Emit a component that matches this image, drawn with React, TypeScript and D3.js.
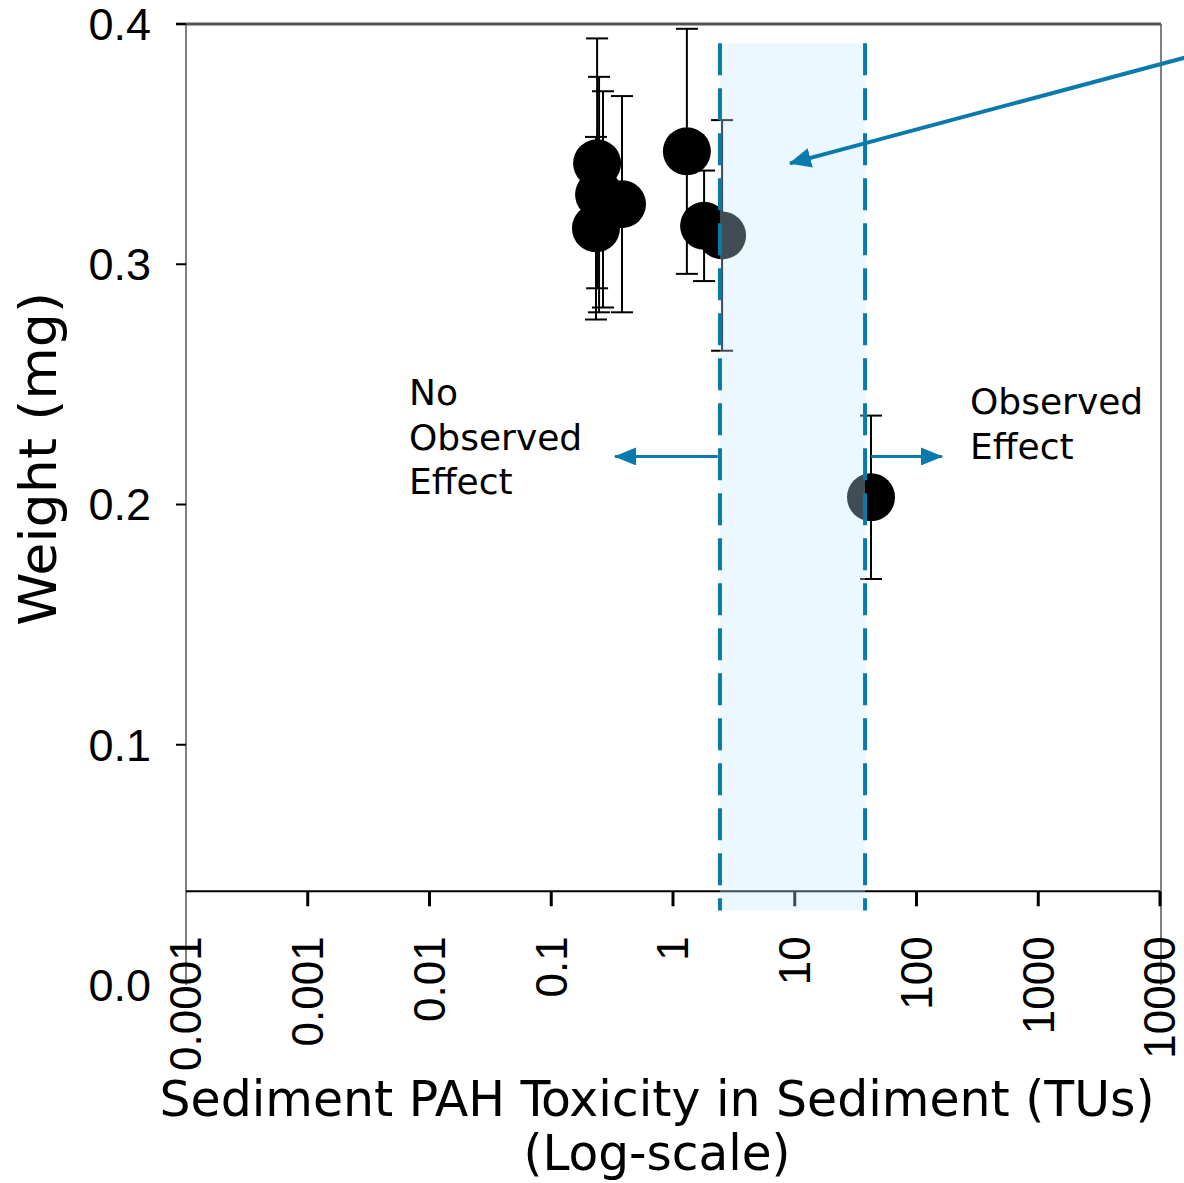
import React, { useEffect, useRef } from 'react';
import * as d3 from 'd3';

// tick values / labels
const xTicks = [0.0001, 0.001, 0.01, 0.1, 1, 10, 100, 1000, 10000];
const xTickLabels = ['0.0001', '0.001', '0.01', '0.1', '1', '10', '100', '1000', '10000'];
const yTicks = [0.0, 0.1, 0.2, 0.3, 0.4];
const yTickLabels = ['0.0', '0.1', '0.2', '0.3', '0.4'];

// samples: PAH toxicity (TUs) vs weight (mg) with +/- error
const toxicity = [0.238, 0.247, 0.266, 0.381, 0.233, 1.3, 1.8, 2.53, 42.3];
const weight = [0.342, 0.329, 0.327, 0.325, 0.315, 0.347, 0.316, 0.312, 0.203];
const weightErr = [0.052, 0.049, 0.045, 0.045, 0.038, 0.051, 0.023, 0.048, 0.034];

// effect threshold band (TUs)
const bandRange = [2.43, 37.8];

const BLUE = '#0a79ab';

const App = () => {
  const chartRef = useRef<SVGSVGElement>(null);

  useEffect(() => {
    const svg = d3.select(chartRef.current);
    svg.selectAll('*').remove();

    const width = 1184;
    const height = 1183;

    const x = d3.scaleLog().domain([0.0001, 10000]).range([186, 1160]);
    const y = d3.scaleLinear().domain([0, 0.4]).range([985, 24]);
    const xAxisAt = 0.039;

    const defs = svg.append('defs');
    const marker = (id: string, w: number, h: number) =>
      defs.append('marker')
        .attr('id', id)
        .attr('viewBox', `0 0 ${w} ${h}`)
        .attr('refX', w - 1)
        .attr('refY', h / 2)
        .attr('markerWidth', w)
        .attr('markerHeight', h)
        .attr('markerUnits', 'userSpaceOnUse')
        .attr('orient', 'auto')
        .append('path')
        .attr('d', `M0,0L${w},${h / 2}L0,${h}Z`)
        .attr('fill', BLUE);
    marker('headS', 22, 18);
    marker('headL', 22, 20);

    // frame
    svg.append('line')
      .attr('x1', x(0.0001)).attr('x2', x(0.0001))
      .attr('y1', y(0.4)).attr('y2', y(0))
      .attr('stroke', '#808080').attr('stroke-width', 2);
    svg.append('line')
      .attr('x1', x(10000) + 1).attr('x2', x(10000) + 1)
      .attr('y1', y(0.4)).attr('y2', y(0))
      .attr('stroke', '#808080').attr('stroke-width', 2);
    svg.append('line')
      .attr('x1', x(0.0001) - 10).attr('x2', x(10000) + 1)
      .attr('y1', y(0.4)).attr('y2', y(0.4))
      .attr('stroke', '#555').attr('stroke-width', 3);

    // x axis line and ticks
    svg.append('line')
      .attr('x1', x(0.0001)).attr('x2', x(10000))
      .attr('y1', y(xAxisAt)).attr('y2', y(xAxisAt))
      .attr('stroke', '#000').attr('stroke-width', 2);
    svg.append('g')
      .selectAll('line')
      .data(xTicks.slice(1))
      .join('line')
        .attr('x1', d => x(d)).attr('x2', d => x(d))
        .attr('y1', y(xAxisAt)).attr('y2', y(xAxisAt) + 15)
        .attr('stroke', '#000').attr('stroke-width', 3);

    svg.append('g')
      .selectAll('text')
      .data(xTicks)
      .join('text')
        .attr('transform', d => `translate(${x(d)},${y(xAxisAt) + 45}) rotate(-90)`)
        .attr('text-anchor', 'end')
        .attr('dy', '0.35em')
        .attr('font-family', 'Liberation Sans, Arial, sans-serif')
        .attr('font-size', 44)
        .text((d, i) => xTickLabels[i]);

    // y ticks
    svg.append('g')
      .selectAll('line')
      .data(yTicks.slice(1))
      .join('line')
        .attr('x1', x(0.0001) - 10).attr('x2', x(0.0001))
        .attr('y1', d => y(d)).attr('y2', d => y(d))
        .attr('stroke', '#000').attr('stroke-width', 2);
    svg.append('g')
      .selectAll('text')
      .data(yTicks)
      .join('text')
        .attr('x', 151)
        .attr('y', d => y(d))
        .attr('dy', '0.35em')
        .attr('text-anchor', 'end')
        .attr('font-family', 'Liberation Sans, Arial, sans-serif')
        .attr('font-size', 45)
        .text((d, i) => yTickLabels[i]);

    // axis titles
    svg.append('text')
      .attr('transform', `translate(56,${y(0.219)}) rotate(-90)`)
      .attr('text-anchor', 'middle')
      .attr('font-family', 'DejaVu Sans, Verdana, sans-serif')
      .attr('font-size', 52)
      .attr('textLength', 334)
      .attr('lengthAdjust', 'spacingAndGlyphs')
      .text('Weight (mg)');
    svg.append('text')
      .attr('x', 657).attr('y', 1116)
      .attr('text-anchor', 'middle')
      .attr('font-family', 'DejaVu Sans Condensed, Verdana, sans-serif')
      .attr('font-size', 50)
      .attr('textLength', 995)
      .attr('lengthAdjust', 'spacingAndGlyphs')
      .text('Sediment PAH Toxicity in Sediment (TUs)');
    svg.append('text')
      .attr('x', 657).attr('y', 1170)
      .attr('text-anchor', 'middle')
      .attr('font-family', 'DejaVu Sans Condensed, Verdana, sans-serif')
      .attr('font-size', 50)
      .attr('textLength', 267)
      .attr('lengthAdjust', 'spacingAndGlyphs')
      .text('(Log-scale)');

    const pts = toxicity.map((t, i) => ({ t, w: weight[i], e: weightErr[i] }));

    // error bars
    const eb = svg.append('g').attr('stroke', '#000').attr('stroke-width', 2);
    pts.forEach(p => {
      eb.append('line')
        .attr('x1', x(p.t)).attr('x2', x(p.t))
        .attr('y1', y(p.w + p.e)).attr('y2', y(p.w - p.e));
      [p.w + p.e, p.w - p.e].forEach(v => {
        eb.append('line')
          .attr('x1', x(p.t) - 11).attr('x2', x(p.t) + 11)
          .attr('y1', y(v)).attr('y2', y(v));
      });
    });

    // points
    svg.append('g')
      .selectAll('circle')
      .data(pts)
      .join('circle')
        .attr('cx', d => x(d.t))
        .attr('cy', d => y(d.w))
        .attr('r', 24)
        .attr('fill', '#000');

    // threshold band
    svg.append('rect')
      .attr('x', x(bandRange[0]))
      .attr('y', y(0.392))
      .attr('width', x(bandRange[1]) - x(bandRange[0]))
      .attr('height', y(0.031) - y(0.392))
      .attr('fill', 'rgb(195,234,255)')
      .attr('fill-opacity', 0.33);
    svg.append('g')
      .selectAll('line')
      .data(bandRange)
      .join('line')
        .attr('x1', d => x(d)).attr('x2', d => x(d))
        .attr('y1', y(0.392)).attr('y2', y(0.031))
        .attr('stroke', BLUE)
        .attr('stroke-width', 4)
        .attr('stroke-dasharray', '32,13');

    // effect arrows
    const arrowY = y(0.22);
    svg.append('line')
      .attr('x1', x(2.33)).attr('x2', x(0.334))
      .attr('y1', arrowY).attr('y2', arrowY)
      .attr('stroke', BLUE).attr('stroke-width', 3)
      .attr('marker-end', 'url(#headS)');
    svg.append('line')
      .attr('x1', x(42.4)).attr('x2', x(162))
      .attr('y1', arrowY).attr('y2', arrowY)
      .attr('stroke', BLUE).attr('stroke-width', 3)
      .attr('marker-end', 'url(#headS)');
    svg.append('line')
      .attr('x1', x(16000)).attr('x2', x(9.14))
      .attr('y1', y(0.386)).attr('y2', y(0.342))
      .attr('stroke', BLUE).attr('stroke-width', 4)
      .attr('marker-end', 'url(#headL)');

    // annotation text
    const note = (lines: string[], x0: number, y0: number) => {
      const t = svg.append('text')
        .attr('font-family', 'DejaVu Sans, Verdana, sans-serif')
        .attr('font-size', 36)
        .attr('fill', '#000');
      lines.forEach((s, i) => {
        t.append('tspan').attr('x', x0).attr('y', y0 + i * 44.5).text(s);
      });
    };
    note(['No', 'Observed', 'Effect'], 409, 405);
    note(['Observed', 'Effect'], 970, 414);

    svg.attr('width', width).attr('height', height);
  }, []);

  return (
    <svg
      ref={chartRef}
      width="1184"
      height="1183"
      style={{ position: 'absolute', left: 0, top: 0, background: '#fff' }}
    ></svg>
  );
};

export default App;
